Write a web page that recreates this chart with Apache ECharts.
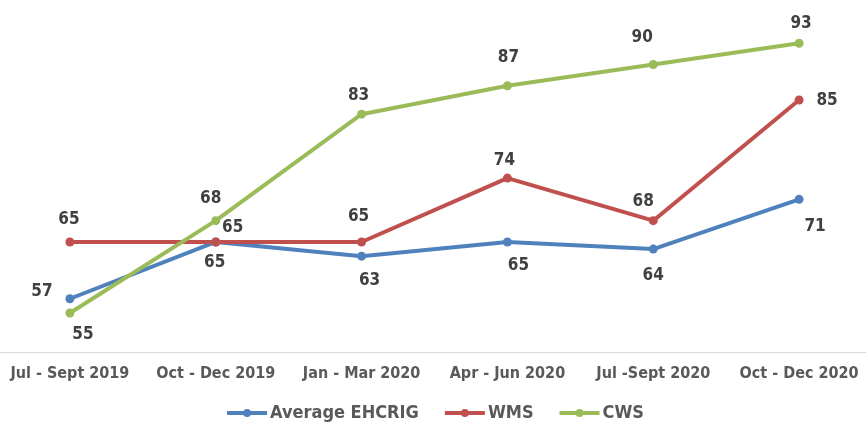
<!DOCTYPE html>
<html>
<head>
<meta charset="utf-8">
<script src="https://cdn.jsdelivr.net/npm/echarts@6/dist/echarts.min.js"></script>
<style>
  html, body { margin: 0; padding: 0; background: #fff; overflow: hidden; }
  /* a bit wider than the window so the first/last points land where they do in the original */
  #chart { width: 875px; height: 422px; margin-left: -3px; }
</style>
</head>
<body>
<div id="chart"></div>
<script>
// quarters on the x axis
const categories = ['Jul - Sept 2019', 'Oct - Dec 2019', 'Jan - Mar 2020', 'Apr - Jun 2020', 'Jul -Sept 2020', 'Oct - Dec 2020'];
const avgValues = [57, 65, 63, 65, 64, 71];
const wmsValues = [65, 65, 65, 74, 68, 85];
const cwsValues = [55, 68, 83, 87, 90, 93];

// label offsets (px from the point) so the numbers sit like in the original
const avgOffsets = [[-28, -7], [-1, 21], [8, 24], [11, 24], [0, 27], [16, 27]];
const wmsOffsets = [[-1, -22], [17, -14], [-3, -25], [-3, -17], [-10, -19], [28, 1]];
const cwsOffsets = [[13, 22], [-5, -22], [-3, -19], [1, -28], [-11, -27], [2, -20]];

const FONT = "'Liberation Sans Narrow', 'DejaVu Sans Condensed', 'Liberation Sans', sans-serif";
const TEXT = '#404040';

function withLabels(values, offsets) {
  return values.map((v, i) => ({
    value: v,
    label: { offset: offsets[i] }
  }));
}

function lineSeries(name, color, values, offsets) {
  return {
    name: name,
    type: 'line',
    data: withLabels(values, offsets),
    symbol: 'circle',
    symbolSize: 9,
    lineStyle: { width: 4, color: color },
    itemStyle: { color: color },
    label: {
      show: true,
      position: 'inside',
      color: TEXT,
      fontFamily: FONT,
      fontWeight: 'bold',
      fontSize: 17
    }
  };
}

const chart = echarts.init(document.getElementById('chart'));
chart.setOption({
  animation: false,
  color: ['#4F81BD', '#C0504D', '#9BBB59'],
  grid: { left: 0, right: 0, top: 29, bottom: 70, containLabel: false },
  xAxis: {
    type: 'category',
    data: categories,
    boundaryGap: true,
    axisTick: { show: false },
    axisLine: { lineStyle: { color: '#d9d9d9', width: 1 } },
    axisLabel: {
      color: '#595959',
      fontFamily: FONT,
      fontWeight: 'bold',
      fontSize: 16,
      margin: 14,
      interval: 0
    }
  },
  yAxis: {
    type: 'value',
    min: 49.5,
    max: 95,
    show: false,
    splitLine: { show: false }
  },
  legend: {
    bottom: -5,
    left: 'center',
    itemWidth: 40,
    itemHeight: 10,
    itemGap: 24,
    lineStyle: { width: 4 },
    textStyle: { color: '#595959', fontFamily: FONT, fontWeight: 'bold', fontSize: 18, padding: [0, 0, 0, -2] },
    data: ['Average EHCRIG', 'WMS', 'CWS']
  },
  series: [
    lineSeries('Average EHCRIG', '#4F81BD', avgValues, avgOffsets),
    lineSeries('WMS', '#C0504D', wmsValues, wmsOffsets),
    lineSeries('CWS', '#9BBB59', cwsValues, cwsOffsets)
  ]
});
</script>
</body>
</html>
